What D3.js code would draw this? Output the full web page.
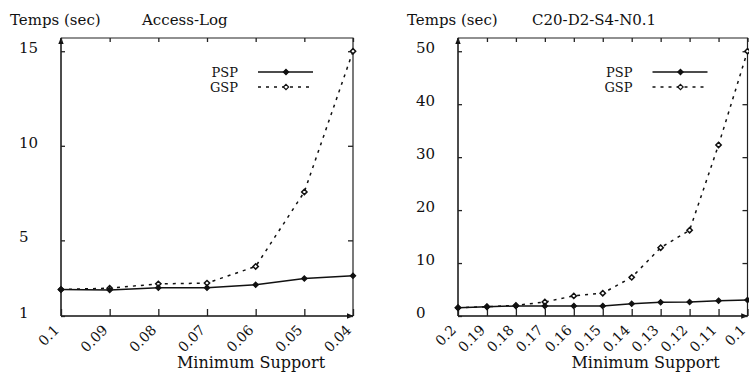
<!DOCTYPE html>
<html>
<head>
<meta charset="utf-8">
<script src="https://cdn.jsdelivr.net/npm/d3@7"></script>
<style>
  body { margin: 0; background: #fff; }
  svg { display: block; }
  text { font-family: "DejaVu Serif", "Liberation Serif", serif; fill: #111; }
</style>
</head>
<body>
<script>
// data
var accessSupport = ["0.1", "0.09", "0.08", "0.07", "0.06", "0.05", "0.04"];
var accessPSP = [2.4, 2.37, 2.49, 2.49, 2.65, 2.98, 3.13];
var accessGSP = [2.4, 2.47, 2.7, 2.74, 3.62, 7.56, 15];
var accessTicks = [1, 5, 10, 15];

var synthSupport = ["0.2", "0.19", "0.18", "0.17", "0.16", "0.15", "0.14", "0.13", "0.12", "0.11", "0.1"];
var synthPSP = [1.57, 1.75, 1.9, 1.9, 1.9, 1.9, 2.3, 2.6, 2.65, 2.9, 3.0];
var synthGSP = [1.57, 1.75, 2.0, 2.65, 3.8, 4.3, 7.3, 12.9, 16.2, 32.3, 50];
var synthTicks = [0, 10, 20, 30, 40, 50];

var seriesNames = ["PSP", "GSP"];

var width = 749, height = 375;

var svg = d3.select("body").append("svg")
    .attr("width", width)
    .attr("height", height);

// arrow head marker
svg.append("defs").append("marker")
    .attr("id", "arrow")
    .attr("viewBox", "0 0 10 10")
    .attr("refX", 9).attr("refY", 5)
    .attr("markerWidth", 7).attr("markerHeight", 7)
    .attr("markerUnits", "userSpaceOnUse")
    .attr("orient", "auto")
  .append("path")
    .attr("d", "M0,1L10,5L0,9z")
    .attr("fill", "#111");

drawPanel({
    x0: 61, x1: 353, yTop: 38, yBottom: 316,
    yDomain: [1, 15.7],
    support: accessSupport, psp: accessPSP, gsp: accessGSP, ticks: accessTicks,
    title: "Access-Log", titleX: 142
});

drawPanel({
    x0: 458, x1: 747.5, yTop: 38, yBottom: 316,
    yDomain: [0, 52.5],
    support: synthSupport, psp: synthPSP, gsp: synthGSP, ticks: synthTicks,
    title: "C20-D2-S4-N0.1", titleX: 532
});

function drawPanel(cfg){
    var g = svg.append("g");

    var x = d3.scalePoint()
        .domain(cfg.support)
        .range([cfg.x0, cfg.x1]);

    var y = d3.scaleLinear()
        .domain(cfg.yDomain)
        .range([cfg.yBottom, cfg.yTop]);

    // frame (top + right side)
    g.append("path")
        .attr("d", "M" + cfg.x0 + "," + cfg.yTop + "H" + cfg.x1 + "V" + cfg.yBottom)
        .attr("fill", "none")
        .attr("stroke", "#222")
        .attr("stroke-width", 1.2);

    // axes with arrows
    g.append("line")
        .attr("x1", cfg.x0).attr("y1", cfg.yBottom)
        .attr("x2", cfg.x0).attr("y2", cfg.yTop)
        .attr("stroke", "#111").attr("stroke-width", 1.5)
        .attr("marker-end", "url(#arrow)");
    g.append("line")
        .attr("x1", cfg.x0).attr("y1", cfg.yBottom)
        .attr("x2", cfg.x1).attr("y2", cfg.yBottom)
        .attr("stroke", "#111").attr("stroke-width", 1.5)
        .attr("marker-end", "url(#arrow)");

    // inward ticks on x (bottom + top mirrored)
    var xAxisB = d3.axisTop(x).tickSize(7).tickFormat("");
    g.append("g")
        .attr("transform", "translate(0," + cfg.yBottom + ")")
        .call(xAxisB)
        .call(function(a){ a.select(".domain").remove(); });
    var xAxisT = d3.axisBottom(x).tickSize(4).tickFormat("");
    g.append("g")
        .attr("transform", "translate(0," + cfg.yTop + ")")
        .call(xAxisT)
        .call(function(a){ a.select(".domain").remove(); });

    var yAxisL = d3.axisRight(y).tickValues(cfg.ticks).tickSize(4).tickFormat("");
    g.append("g")
        .attr("transform", "translate(" + cfg.x0 + ",0)")
        .call(yAxisL)
        .call(function(a){ a.select(".domain").remove(); });
    var yAxisR = d3.axisLeft(y).tickValues(cfg.ticks).tickSize(5).tickFormat("");
    g.append("g")
        .attr("transform", "translate(" + cfg.x1 + ",0)")
        .call(yAxisR)
        .call(function(a){ a.select(".domain").remove(); });

    g.selectAll(".tick line")
        .attr("stroke", "#222")
        .attr("stroke-width", 1.3);

    // y tick labels, left aligned like the original
    g.selectAll(".ylab")
        .data(cfg.ticks)
        .enter()
        .append("text")
        .attr("class", "ylab")
        .attr("x", cfg.x0 - 42)
        .attr("y", function(d){ return y(d) + 2; })
        .attr("font-size", 15)
        .text(function(d){ return d; });

    // x tick labels rotated
    g.selectAll(".xlab")
        .data(cfg.support)
        .enter()
        .append("text")
        .attr("class", "xlab")
        .attr("text-anchor", "end")
        .attr("font-size", 14)
        .attr("transform", function(d){
            return "translate(" + (x(d) - 1) + "," + (cfg.yBottom + 15) + ") rotate(-45)";
        })
        .text(function(d){ return d; });

    // titles
    g.append("text")
        .attr("x", cfg.x0 - 51)
        .attr("y", 25)
        .attr("font-size", 15)
        .text("Temps (sec)");
    g.append("text")
        .attr("x", cfg.titleX)
        .attr("y", 25)
        .attr("font-size", 15)
        .text(cfg.title);
    g.append("text")
        .attr("x", cfg.x1 - 102)
        .attr("y", 368)
        .attr("text-anchor", "middle")
        .attr("font-size", 16)
        .text("Minimum Support");

    // series lines
    var line = d3.line()
        .x(function(d){ return x(d.k); })
        .y(function(d){ return y(d.v); });

    function pairs(vals){
        return cfg.support.map(function(k, i){ return {k: k, v: vals[i]}; });
    }

    var diamond = d3.symbol().type(d3.symbolDiamond2).size(18);

    g.append("path")
        .datum(pairs(cfg.gsp))
        .attr("d", line)
        .attr("fill", "none")
        .attr("stroke", "#111")
        .attr("stroke-width", 1.5)
        .attr("stroke-dasharray", "3,5");
    g.append("path")
        .datum(pairs(cfg.psp))
        .attr("d", line)
        .attr("fill", "none")
        .attr("stroke", "#111")
        .attr("stroke-width", 1.5);

    g.selectAll(".gspPt")
        .data(pairs(cfg.gsp))
        .enter()
        .append("path")
        .attr("class", "gspPt")
        .attr("d", diamond)
        .attr("transform", function(d){ return "translate(" + x(d.k) + "," + y(d.v) + ")"; })
        .attr("fill", "#fff")
        .attr("stroke", "#111")
        .attr("stroke-width", 1.5);
    g.selectAll(".pspPt")
        .data(pairs(cfg.psp))
        .enter()
        .append("path")
        .attr("class", "pspPt")
        .attr("d", diamond)
        .attr("transform", function(d){ return "translate(" + x(d.k) + "," + y(d.v) + ")"; })
        .attr("fill", "#111")
        .attr("stroke", "#111")
        .attr("stroke-width", 1.2);

    // legend
    var lx1 = cfg.x1 - 40, lx0 = lx1 - 55, ly = [72, 87];
    seriesNames.forEach(function(name, i){
        g.append("text")
            .attr("x", lx0 - 20)
            .attr("y", ly[i] + 5)
            .attr("text-anchor", "end")
            .attr("font-size", 13)
            .text(name);
        g.append("line")
            .attr("x1", lx0).attr("x2", lx1)
            .attr("y1", ly[i]).attr("y2", ly[i])
            .attr("stroke", "#111")
            .attr("stroke-width", 1.5)
            .attr("stroke-dasharray", i == 1 ? "3,5" : null);
        g.append("path")
            .attr("d", diamond)
            .attr("transform", "translate(" + (lx0 + 28) + "," + ly[i] + ")")
            .attr("fill", i == 0 ? "#111" : "#fff")
            .attr("stroke", "#111")
            .attr("stroke-width", 1.2);
    });
}
</script>
</body>
</html>
